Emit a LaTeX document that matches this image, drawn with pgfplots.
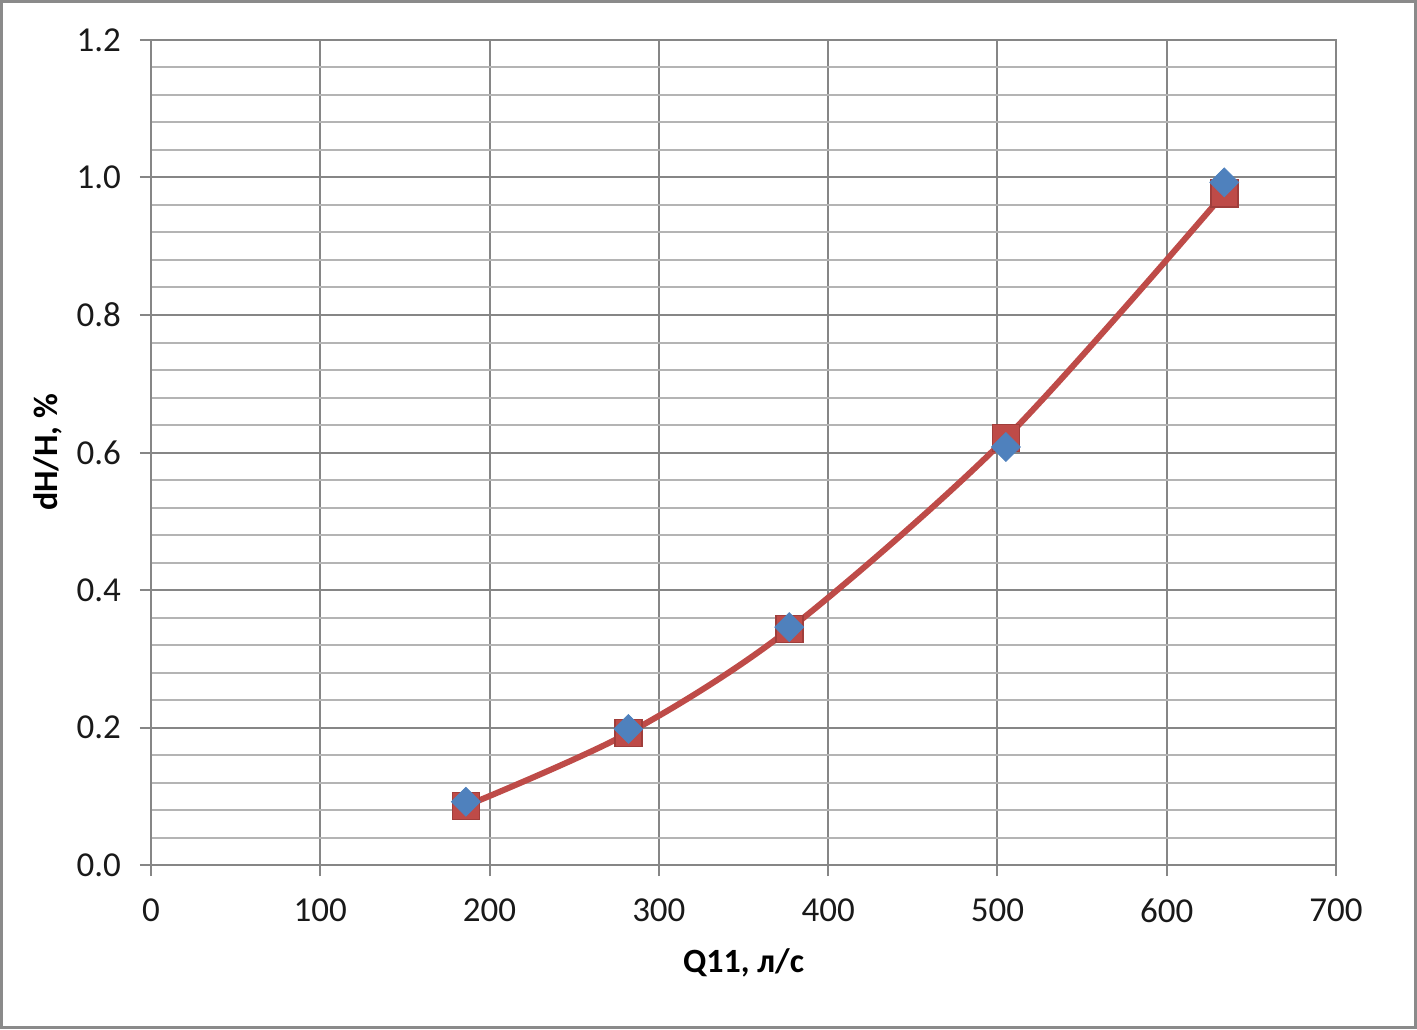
\documentclass[border=0pt]{standalone}
\usepackage{pgfplots}
\pgfplotsset{compat=1.18}
\usepackage{fontspec}
\setmainfont{Carlito}
\definecolor{majgrid}{HTML}{868686}
\definecolor{mingrid}{HTML}{B4B4B4}
\definecolor{sblue}{HTML}{4F81BD}
\definecolor{sred}{HTML}{BE4B48}
\definecolor{sredd}{HTML}{A03E3B}
\definecolor{frame}{HTML}{8A8A8A}
\begin{document}
\begin{tikzpicture}
\path[use as bounding box] (-75.5pt,-82pt) rectangle (633pt,432.5pt);
\draw[frame, line width=1.6pt] (-74.7pt,-81.2pt) rectangle (632.2pt,431.7pt);
\begin{axis}[
  at={(0,0)}, anchor=south west,
  scale only axis, width=592.5pt, height=412.5pt,
  xmin=0, xmax=700, ymin=0, ymax=1.2,
  xtick={0,100,...,700},
  ytick={0,0.2,...,1.2},
  minor y tick num=4,
  grid=both,
  major grid style={majgrid, line width=1pt},
  minor grid style={mingrid, line width=1pt},
  axis line style={majgrid, line width=1pt},
  tick style={majgrid, line width=1pt},
  minor tick length=0pt,
  major tick length=5.5pt,
  tick align=outside,
  xtick pos=bottom, ytick pos=left,
  /pgf/number format/assume math mode=true,
  yticklabel style={/pgf/number format/fixed, /pgf/number format/fixed zerofill, /pgf/number format/precision=1, xshift=-6pt},
  xticklabel style={/pgf/number format/fixed, yshift=-8pt},
  ticklabel style={font=\fontsize{17.5}{20}\selectfont, text=black!90},
  xlabel={\textbf{Q11, л/с}},
  ylabel={\textbf{dH/H, \%}},
  label style={font=\fontsize{17}{20}\selectfont},
  xlabel style={at={(rel axis cs:0.5,0)}, anchor=center, yshift=-49pt},
  ylabel style={at={(rel axis cs:0,0.5)}, anchor=center, yshift=51.5pt},
  clip=false,
]
\addplot[sred, line width=3pt, smooth, mark=square*, mark size=6.75pt,
  mark options={fill=sred, draw=sredd, line width=0.8pt}]
  coordinates {(186,0.086) (282,0.192) (377,0.343) (505,0.621) (634,0.977)};
\addplot[only marks, mark=square*, mark size=5.1pt,
  mark options={fill=sblue, draw=sblue, rotate=45}]
  coordinates {(186,0.092) (282,0.198) (377,0.346) (505,0.608) (634,0.993)};
\end{axis}
\end{tikzpicture}
\end{document}
